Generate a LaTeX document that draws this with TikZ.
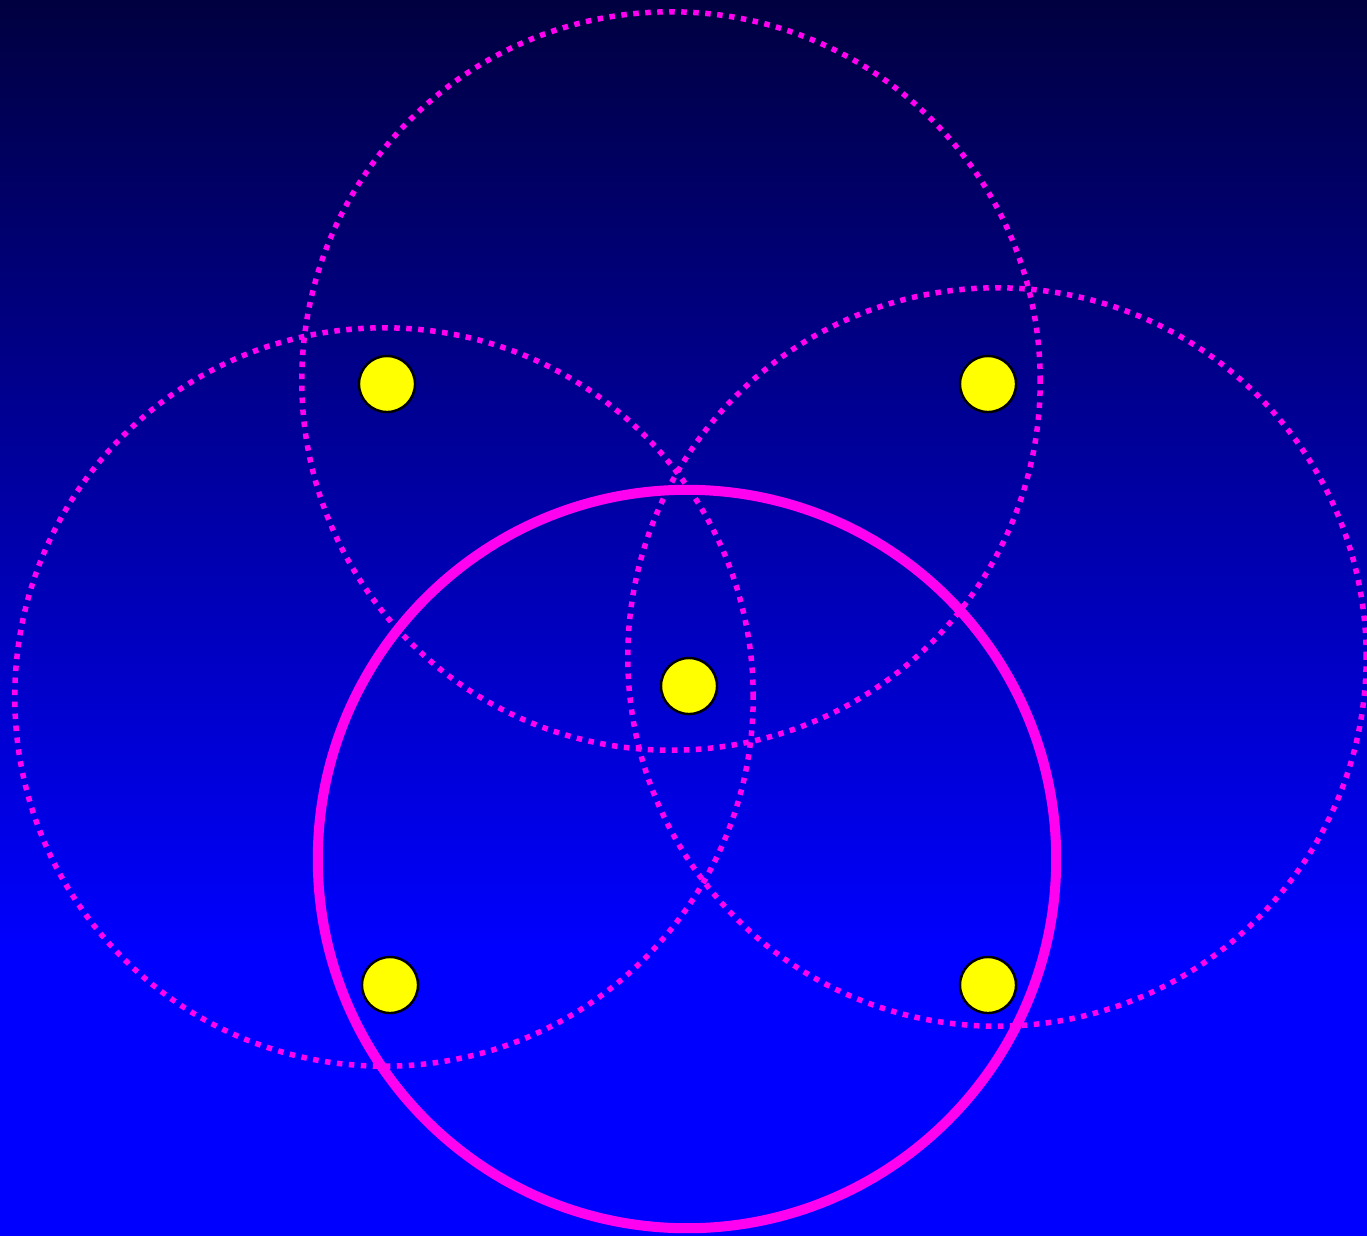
\documentclass[tikz,border=0pt]{standalone}
\usepackage{xcolor}
\usepackage{tikz}
\usetikzlibrary{shapes,positioning}

\definecolor{navytop}{RGB}{0,0,64}
\definecolor{ringpink}{RGB}{255,0,240}
\definecolor{dotyellow}{RGB}{255,255,0}

\begin{document}
\begin{tikzpicture}[
    x=0.01cm, y=-0.01cm,
    ring/.style={circle, draw=ringpink, inner sep=0pt, minimum size=7.38cm},
    dottedring/.style={ring, line width=0.055cm, dash pattern=on 0.055cm off 0.065cm},
    solidring/.style={ring, line width=0.1cm},
    site/.style={circle, draw=black, fill=dotyellow, line width=0.7pt, inner sep=0pt, minimum size=0.56cm}
]
    % background
    \fill[blue] (0,950) rectangle (1367,1236);
    \shade[top color=navytop, bottom color=blue] (0,0) rectangle (1367,951);
    \useasboundingbox (0,0) rectangle (1367,1236);

    \node[dottedring] (top) at (671,381) {};
    \node[dottedring] (left) at (384,697) {};
    \node[dottedring] (right) at (997,657) {};
    \node[solidring] (bottom) at (687,859) {};

    \node[site] (nw) at (387,384) {};
    \node[site] (ne) at (988,384) {};
    \node[site] (mid) at (689,686) {};
    \node[site] (sw) at (390,985) {};
    \node[site] (se) at (988,985) {};
\end{tikzpicture}
\end{document}
